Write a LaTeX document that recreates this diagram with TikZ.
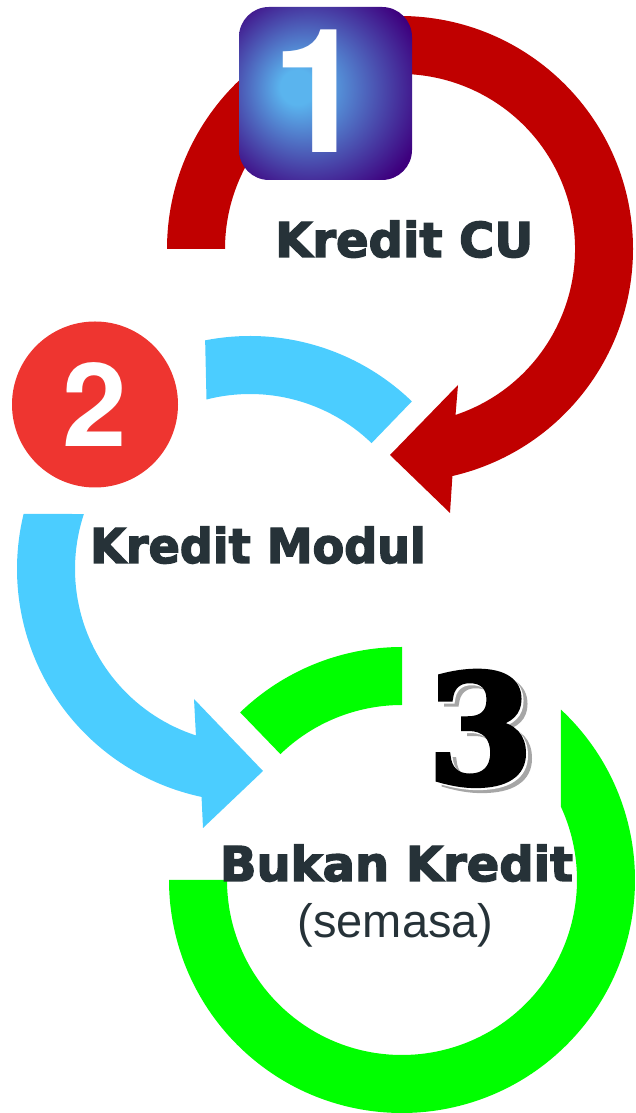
\documentclass[tikz,border=0pt]{standalone}
\usepackage{fontspec}
\usepackage{tikz}
\usetikzlibrary{calc}
\setmainfont{Liberation Sans}
\newfontfamily\digitfont{TeX Gyre Heros}
\newfontfamily\heavyfont[FakeBold=3]{DejaVu Sans Bold}
\newfontfamily\posterfont[FakeBold=4]{DejaVu Serif Bold}
\definecolor{ringred}{HTML}{C00000}
\definecolor{ringblue}{HTML}{4BCDFF}
\definecolor{ringgreen}{HTML}{00FF00}
\definecolor{badgered}{HTML}{EE3530}
\definecolor{boxpurple}{HTML}{3E007E}
\definecolor{glowblue}{HTML}{5AB4EE}
\definecolor{labelgray}{HTML}{263238}
\pgfdeclareradialshading{glowbox}{\pgfpoint{-9bp}{2bp}}{color(0bp)=(glowblue); color(5bp)=(glowblue); color(33bp)=(boxpurple); color(50bp)=(boxpurple)}
% engraved look: grey shadow, thin white gap, black digit
\newcommand{\shadowthree}{%
  \rlap{\kern6pt\raisebox{-5pt}{\color{black!35}3}}%
  \rlap{\kern2pt\raisebox{-2pt}{\color{white}3}}3}

\begin{document}
\begin{tikzpicture}[x=1pt,y=1pt,
  caption/.style={inner sep=0pt, text=labelgray, font=\heavyfont\fontsize{48}{48}\selectfont},
  digit/.style={inner sep=0pt, text=white, font=\digitfont\bfseries\fontsize{#1}{#1}\selectfont}]
\useasboundingbox (0,0) rectangle (636,1113);

\coordinate (cu) at (400,864);
\coordinate (modul) at (250,544);
\coordinate (bukan) at (402,233);

% red ring, clockwise
\begin{scope}[shift={(cu)}]
\fill[ringred] (180:233) arc[start angle=180,end angle=-77,radius=233]
 -- (50,-264) -- (-10,-206) -- (58,-136)
 -- (-71.5:175) arc[start angle=-71.5,end angle=180,radius=175] -- cycle;
\end{scope}

% blue ring, two pieces
\begin{scope}[shift={(modul)}]
\fill[ringblue] (101.1:233) arc[start angle=101.1,end angle=46,radius=233]
 -- (46:175) arc[start angle=46,end angle=104.4,radius=175] -- cycle;
\fill[ringblue] (166.3:233) arc[start angle=166.3,end angle=258,radius=233]
 -- (-47,-259) -- (13,-202) -- (-56,-130)
 -- (252:175) arc[start angle=252,end angle=161.7,radius=175] -- cycle;
\end{scope}

% green ring, no head
\begin{scope}[shift={(bukan)}]
\fill[ringgreen] (90:233) arc[start angle=90,end angle=134,radius=233]
 -- (134:175) arc[start angle=134,end angle=90,radius=175] -- cycle;
\fill[ringgreen] (47:233) arc[start angle=47,end angle=-180,radius=233]
 -- (-180:175) arc[start angle=-180,end angle=24.7,radius=175] -- cycle;
\end{scope}

%badges
\node[rectangle, rounded corners=30, minimum size=173, inner sep=0, shading=glowbox] (box1) at (325.5,1019.5) {};
\node[digit=173, anchor=base] (one) at (320,960) {1};
\node[circle, fill=badgered, minimum size=166, inner sep=0, digit=116] (two) at (95,708.5) {2};

\node[inner sep=0, anchor=base west, text=black, font=\posterfont\fontsize{150}{150}\selectfont] (three) at (428,330) {\shadowthree};

% labels
\node[caption, anchor=base west] (cutext) at (275,856) {Kredit CU};
\node[caption, anchor=base west, xscale=0.96] (modultext) at (90,550) {Kredit Modul};
\node[caption, anchor=base] (bukantext) at (396.5,232) {Bukan Kredit};
\node[inner sep=0, anchor=base, text=labelgray, font=\fontsize{47}{47}\selectfont] (semasa) at (395.5,175) {(semasa)};

\end{tikzpicture}
\end{document}
